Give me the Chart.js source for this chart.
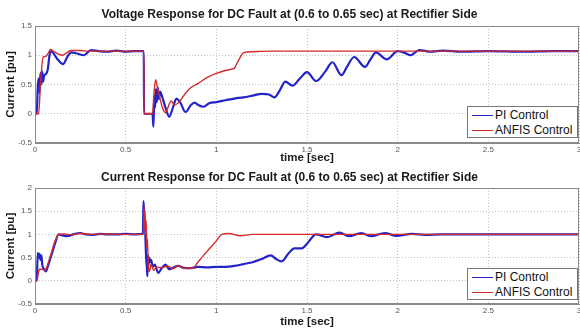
<!DOCTYPE html>
<html>
<head>
<meta charset="utf-8">
<script src="https://cdn.jsdelivr.net/npm/chart.js@4.4.0/dist/chart.umd.min.js"></script>
<style>
  body { margin: 0; background: #fff; }
  #wrap { position: relative; width: 580px; height: 331px; font-family: Arial, "Liberation Sans", sans-serif; }
  .panel { position: absolute; left: 0; width: 580px; }
  .legend { position: absolute; left: 467px; width: 111px; height: 32px; background: #fff; border: 1px solid #777;
            box-sizing: border-box; font-size: 12px; color: #111; padding: 1px 0 0 4px; }
  .legend div { height: 15px; line-height: 15px; white-space: nowrap; }
  .legend i { display: inline-block; width: 21px; height: 0; border-top: 1.5px solid; vertical-align: middle; margin-right: 2px; }
</style>
</head>
<body>
<div id="wrap">
  <div class="panel" style="top:0;height:165px"><canvas id="voltage" width="580" height="165"></canvas></div>
  <div class="panel" style="top:165px;height:166px"><canvas id="current" width="580" height="166"></canvas></div>
  <div class="legend" style="top:106px">
    <div><i style="border-color:#2323c8"></i>PI Control</div>
    <div><i style="border-color:#d42a2a"></i>ANFIS Control</div>
  </div>
  <div class="legend" style="top:268px">
    <div><i style="border-color:#2323c8"></i>PI Control</div>
    <div><i style="border-color:#d42a2a"></i>ANFIS Control</div>
  </div>
</div>
<script>
// voltage response, values
const vTimePI = [0, 0.01, 0.015, 0.02, 0.025, 0.03, 0.035, 0.04, 0.045, 0.05, 0.06, 0.07, 0.08, 0.09, 0.1, 0.12, 0.155, 0.18, 0.2, 0.23, 0.27, 0.31, 0.35, 0.4, 0.45, 0.5, 0.55, 0.6,
  0.601, 0.648, 0.653, 0.658, 0.662, 0.667, 0.672, 0.677, 0.683, 0.69, 0.7, 0.72, 0.74, 0.76, 0.78, 0.8, 0.83, 0.86, 0.88, 0.9, 0.93, 0.96,
  1.0, 1.05, 1.1, 1.15, 1.2, 1.25, 1.29, 1.32, 1.35, 1.38, 1.42, 1.46, 1.5, 1.55, 1.6, 1.64, 1.69, 1.72, 1.76, 1.82, 1.85, 1.88, 1.94,
  2.0, 2.04, 2.07, 2.12, 2.18, 2.25, 2.35, 2.5, 2.7, 2.85, 3.0];
const vPI = [0, 0, 0.45, 0.6, 0.35, 0.7, 0.5, 0.72, 0.55, 0.65, 0.68, 0.75, 1.0, 1.07, 1.04, 0.95, 0.85, 0.98, 1.05, 1.03, 1.0, 1.09, 1.07, 1.06, 1.08, 1.06, 1.07, 1.07,
  0, 0, -0.22, 0.3, 0.1, 0.42, 0.2, 0.45, 0.25, 0.38, 0.3, 0.1, -0.05, 0.1, 0.26, 0.2, 0.03, 0.15, 0.19, 0.15, 0.12, 0.18,
  0.2, 0.23, 0.26, 0.28, 0.31, 0.34, 0.33, 0.28, 0.4, 0.55, 0.48, 0.6, 0.71, 0.56, 0.72, 0.88, 0.66, 0.8, 0.97, 0.8, 0.93, 1.05, 0.93,
  1.07, 1.04, 1.0, 1.09, 1.06, 1.08, 1.06, 1.07, 1.06, 1.07, 1.07];
const vTimeANFIS = [0, 0.02, 0.03, 0.045, 0.06, 0.075, 0.085, 0.1, 0.15, 0.2, 0.25, 0.3, 0.4, 0.5, 0.6,
  0.601, 0.648, 0.655, 0.665, 0.675, 0.69, 0.705, 0.72, 0.735, 0.75, 0.77, 0.8, 0.83, 0.86, 0.9, 0.95, 1.0, 1.05, 1.08, 1.1, 1.12, 1.15, 1.2,
  1.3, 1.5, 1.8, 2.1, 2.4, 2.7, 3.0];
const vANFIS = [0, 0, 0.5, 0.97, 0.98, 1.05, 1.1, 1.07, 1.0, 1.08, 1.08, 1.07, 1.07, 1.07, 1.07,
  0, 0, 0.3, 0.58, 0.45, 0.25, 0.08, 0.02, 0.12, 0.22, 0.15, 0.22, 0.35, 0.45, 0.52, 0.62, 0.69, 0.74, 0.76, 0.78, 0.9, 1.04, 1.06,
  1.07, 1.07, 1.07, 1.07, 1.07, 1.07, 1.07];

// current response
const cTimePI = [0, 0.01, 0.015, 0.02, 0.025, 0.03, 0.035, 0.04, 0.05, 0.06, 0.07, 0.09, 0.11, 0.13, 0.15, 0.18, 0.21, 0.25, 0.28, 0.32, 0.36, 0.4, 0.45, 0.5, 0.55, 0.595,
  0.598, 0.603, 0.607, 0.61, 0.613, 0.617, 0.62, 0.623, 0.627, 0.63, 0.635, 0.64, 0.65, 0.66, 0.68, 0.7, 0.72, 0.74, 0.76, 0.79, 0.82, 0.85, 0.9, 0.95,
  1.0, 1.05, 1.1, 1.15, 1.2, 1.25, 1.3, 1.33, 1.36, 1.4, 1.43, 1.47, 1.5, 1.55, 1.61, 1.68, 1.73, 1.8, 1.85, 1.93, 1.99, 2.08, 2.15, 2.25, 2.5, 3.0];
const cPI = [0, 0, 0.6, 0.5, 0.58, 0.45, 0.55, 0.35, 0.25, 0.2, 0.3, 0.55, 0.8, 1.0, 0.98, 0.96, 1.0, 1.03, 1.0, 0.99, 1.01, 1.0, 1.0, 1.01, 1.0, 1.01,
  1.72, 1.4, 1.2, 0.8, 0.5, 0.3, 0.1, 0.55, 0.35, 0.5, 0.4, 0.45, 0.3, 0.35, 0.17, 0.28, 0.35, 0.25, 0.28, 0.32, 0.28, 0.27, 0.3, 0.29,
  0.3, 0.3, 0.32, 0.36, 0.4, 0.47, 0.55, 0.47, 0.42, 0.6, 0.7, 0.7, 0.8, 1.0, 0.94, 1.04, 0.96, 1.03, 0.96, 1.03, 0.97, 1.01, 0.99, 1.0, 1.0, 1.0];
const cTimeANFIS = [0, 0.01, 0.02, 0.025, 0.04, 0.055, 0.065, 0.09, 0.11, 0.13, 0.16, 0.2, 0.25, 0.3, 0.4, 0.5, 0.598,
  0.601, 0.604, 0.607, 0.61, 0.613, 0.617, 0.62, 0.625, 0.63, 0.64, 0.655, 0.67, 0.7, 0.73, 0.76, 0.79, 0.82, 0.85, 0.87,
  0.9, 0.95, 1.0, 1.03, 1.07, 1.13, 1.2, 1.5, 2.0, 2.5, 3.0];
const cANFIS = [0, 0, 0.2, 0.25, 0.25, 0.22, 0.3, 0.6, 0.85, 1.0, 1.01, 0.99, 1.02, 1.0, 1.01, 1.0, 1.0,
  1.6, 1.1, 1.5, 1.0, 1.3, 0.7, 0.9, 0.3, 0.2, 0.35, 0.22, 0.3, 0.28, 0.32, 0.26, 0.33, 0.27, 0.28, 0.27,
  0.41, 0.64, 0.86, 1.0, 1.02, 0.97, 1.0, 1.0, 1.0, 1.0, 1.0];

function pts(ts, ys) {
  return ts.map((t, i) => ({ x: t, y: ys[i] }));
}

// matlab-like box round the axes
const frame = {
  id: 'frame',
  afterDraw(chart) {
    const a = chart.chartArea, ctx = chart.ctx;
    ctx.save();
    ctx.strokeStyle = '#8a8a8a';
    ctx.lineWidth = 1;
    ctx.strokeRect(a.left + 0.5, a.top + 0.5, a.right - a.left - 1, a.bottom - a.top - 1);
    ctx.restore();
  }
};

const tickFmt = v => String(Math.round(v * 100) / 100);

function makePanel(id, opt) {
  return new Chart(document.getElementById(id), {
    type: 'line',
    data: {
      datasets: [
        { label: 'ANFIS Control', data: pts(opt.tA, opt.yA), borderColor: '#d42a2a', borderWidth: 1.4, order: 0 },
        { label: 'PI Control', data: pts(opt.tP, opt.yP), borderColor: '#2323c8', borderWidth: 2.2, order: 1 }
      ]
    },
    options: {
      responsive: false,
      animation: false,
      devicePixelRatio: 1,
      layout: { padding: { right: 1 } },
      elements: { point: { radius: 0 }, line: { cubicInterpolationMode: 'monotone' } },
      plugins: {
        legend: { display: false },
        tooltip: { enabled: false },
        title: {
          display: true, text: opt.title, color: '#1a1a1a',
          font: { family: 'Arial', size: 12, weight: 'bold', lineHeight: 1.2 },
          padding: { top: opt.titleTop, bottom: opt.titleBottom }
        }
      },
      scales: {
        x: {
          type: 'linear', min: 0, max: 3,
          afterFit: s => { s.height = opt.xHeight; s.paddingLeft = 0; s.paddingRight = 0; },
          ticks: { stepSize: 0.5, callback: tickFmt, color: '#555', font: { family: 'Arial', size: 8 }, padding: 2, maxRotation: 0, autoSkip: false },
          grid: { color: '#c4c4c4', lineWidth: 1, drawTicks: false },
          border: { color: '#8a8a8a', dash: [1, 2] },
          title: { display: true, text: 'time [sec]', color: '#1a1a1a',
                   font: { family: 'Arial', size: 11.5, weight: 'bold', lineHeight: 1.2 },
                   padding: { top: 0, bottom: opt.xTitleBottom } }
        },
        y: {
          min: -0.5, max: opt.yMax,
          ticks: { stepSize: 0.5, callback: tickFmt, color: '#555', font: { family: 'Arial', size: 8 }, padding: 3 },
          afterFit: s => { s.width = 35; },
          grid: { color: '#c4c4c4', lineWidth: 1, drawTicks: false },
          border: { color: '#8a8a8a', dash: [1, 2] },
          title: { display: true, text: 'Current [pu]', color: '#1a1a1a',
                   font: { family: 'Arial', size: 11.5, weight: 'bold', lineHeight: 1.2 },
                   padding: { top: 4, bottom: 0 } }
        }
      }
    },
    plugins: [frame]
  });
}

makePanel('voltage', {
  title: 'Voltage Response for DC Fault at (0.6 to 0.65 sec) at Rectifier Side',
  tP: vTimePI, yP: vPI, tA: vTimeANFIS, yA: vANFIS,
  yMax: 1.5, titleTop: 7.8, titleBottom: 3.8, xHeight: 22, xTitleBottom: 0.1
});
makePanel('current', {
  title: 'Current Response for DC Fault at (0.6 to 0.65 sec) at Rectifier Side',
  tP: cTimePI, yP: cPI, tA: cTimeANFIS, yA: cANFIS,
  yMax: 2, titleTop: 5.8, titleBottom: 2.8, xHeight: 27, xTitleBottom: 2.1
});
</script>
</body>
</html>
